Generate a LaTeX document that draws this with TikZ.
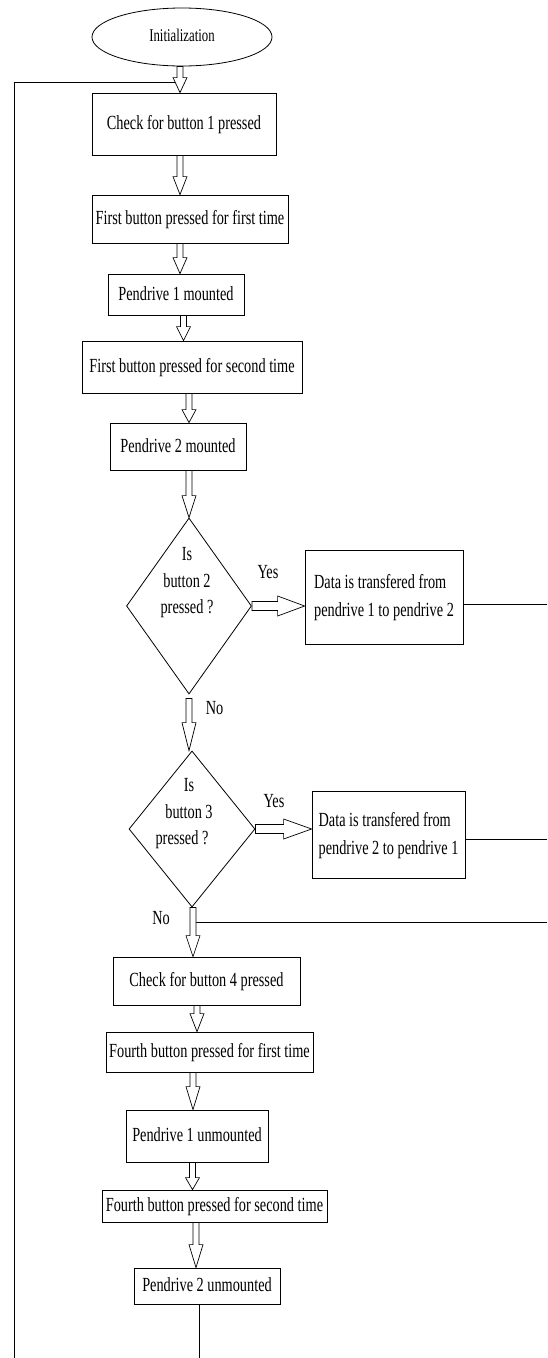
\documentclass[tikz,border=0pt]{standalone}
\usepackage{graphicx}
\usepackage{fontspec}
\setmainfont{Liberation Serif}
\usetikzlibrary{shapes.geometric,calc}
\newcommand\tx[1]{\scalebox{1}[1.4]{\begin{tabular}{@{}c@{}}#1\end{tabular}}}
\newcommand\txl[1]{\scalebox{1}[1.4]{\begin{tabular}{@{}l@{}}#1\end{tabular}}}
% vertical block arrow: #1 from, #2 to, #3 head length
\newcommand\varrow[3]{\draw[blk] let \p1=(#1), \p2=(#2) in
  (\x1-3pt,\y1) -- (\x1-3pt,\y2+#3pt) -- (\x1-7pt,\y2+#3pt) -- (\x1,\y2)
  -- (\x1+7pt,\y2+#3pt) -- (\x1+3pt,\y2+#3pt) -- (\x1+3pt,\y1) -- cycle;}
% horizontal block arrow
\newcommand\harrow[3]{\draw[blk] let \p1=(#1), \p2=(#2) in
  (\x1,\y1-4.5pt) -- (\x2-#3pt,\y1-4.5pt) -- (\x2-#3pt,\y1-10pt) -- (\x2,\y1)
  -- (\x2-#3pt,\y1+10pt) -- (\x2-#3pt,\y1+4.5pt) -- (\x1,\y1+4.5pt) -- cycle;}
\tikzset{
  box/.style={draw, line width=0.8pt, rectangle, inner sep=0pt,
    font=\fontsize{14.3}{20}\selectfont},
  startbox/.style={draw, line width=0.8pt, ellipse, inner sep=0pt,
    font=\fontsize{12.8}{16}\selectfont},
  decision/.style={draw, line width=0.8pt, diamond, inner sep=0pt},
  lbl/.style={inner sep=0pt, font=\fontsize{14.3}{19}\selectfont},
  blk/.style={draw, fill=white, line width=0.7pt, line join=miter},
  conn/.style={line width=0.8pt}
}
\begin{document}
\begin{tikzpicture}[x=1pt,y=-1pt]
\useasboundingbox (0,0) rectangle (547,1358);
% nodes
\node[startbox, minimum width=180pt, minimum height=58pt] (init) at (182,37) {\tx{Initialization}};
\node[box, minimum width=184pt, minimum height=62pt] (b1) at (184,124) {\tx{Check for button 1 pressed}};
\node[box, minimum width=196pt, minimum height=48pt] (b2) at (190,219) {\tx{First button pressed for first time}};
\node[box, minimum width=136pt, minimum height=41pt] (b3) at (176,294.5) {\tx{Pendrive 1 mounted}};
\node[box, minimum width=220pt, minimum height=52pt] (b4) at (192,367) {\tx{First button pressed for second time}};
\node[box, minimum width=136pt, minimum height=47pt] (b5) at (178,446.5) {\tx{Pendrive 2 mounted}};
\node[decision, minimum width=125pt, minimum height=176pt] (d1) at (189,606) {};
\node[lbl] (d1t) at (187,582) {\tx{Is\\button 2\\pressed ?}};
\node[box, minimum width=158pt, minimum height=94pt] (D1) at (384,597) {\txl{Data is transfered from\\pendrive 1 to pendrive 2}};
\node[decision, minimum width=126pt, minimum height=156pt] (d2) at (192,829) {};
\node[lbl] (d2t) at (189,813) {\tx{Is\\button 3\\pressed ?\hspace*{14pt}}};
\node[box, minimum width=153pt, minimum height=87pt] (D2) at (388.5,834.5) {\txl{Data is transfered from\\pendrive 2 to pendrive 1}};
\node[box, minimum width=187pt, minimum height=48pt] (b6) at (206.5,981) {\tx{Check for button 4 pressed}};
\node[box, minimum width=207pt, minimum height=40pt] (b7) at (209.5,1052) {\tx{Fourth button pressed for first time}};
\node[box, minimum width=142pt, minimum height=52pt] (b8) at (197,1136) {\tx{Pendrive 1 unmounted}};
\node[box, minimum width=225pt, minimum height=32pt] (b9) at (214.5,1206) {\tx{Fourth button pressed for second time}};
\node[box, minimum width=146pt, minimum height=36pt] (b10) at (207,1286) {\tx{Pendrive 2 unmounted}};
% labels
\node[lbl] (yes1) at (268,573) {\tx{Yes}};
\node[lbl] (yes2) at (274,802) {\tx{Yes}};
\node[lbl] (no1) at (214.5,709) {\tx{No}};
\node[lbl] (no2) at (161,919) {\tx{No}};
% coordinates for loose ends
\coordinate (j0) at (177,82);
\coordinate (lt) at (14,82);
\coordinate (lb) at (14,1358);
\coordinate (bend) at (199,1358);
\coordinate (r1) at (547,604);
\coordinate (r2) at (547,839);
\coordinate (r3) at (547,922);
\coordinate (n2r) at (196,922);
% plain connectors
\draw[conn] (j0) -- (lt) -- (lb);
\draw[conn] (b10.south -| bend) -- (bend);
\draw[conn] (D1.east |- r1) -- (r1);
\draw[conn] (D2.east |- r2) -- (r2);
\draw[conn] (n2r) -- (r3);
% block arrows
\varrow{init.south -| 180,0}{b1.north -| 180,0}{15}
\varrow{b1.south -| 180,0}{b2.north -| 180,0}{18}
\varrow{b2.south -| 180,0}{b3.north -| 180,0}{16}
\varrow{b3.south -| 183.5,0}{b4.north -| 183.5,0}{14}
\varrow{b4.south -| 189,0}{b5.north -| 189,0}{13}
\varrow{b5.south -| 189,0}{d1.north}{22}
\varrow{[yshift=-4pt]d1.south}{d2.north}{28}
\varrow{d2.south -| 193,0}{b6.north -| 193,0}{21}
\varrow{b6.south -| 197,0}{b7.north -| 197,0}{18}
\varrow{b7.south -| 193,0}{b8.north -| 193,0}{23}
\varrow{b8.south -| 192.5,0}{b9.north -| 192.5,0}{12}
\varrow{b9.south -| 196,0}{b10.north -| 196,0}{23}
\harrow{d1.east}{D1.west |- d1.east}{27}
\harrow{d2.east}{D2.west |- d2.east}{28}
\end{tikzpicture}
\end{document}
